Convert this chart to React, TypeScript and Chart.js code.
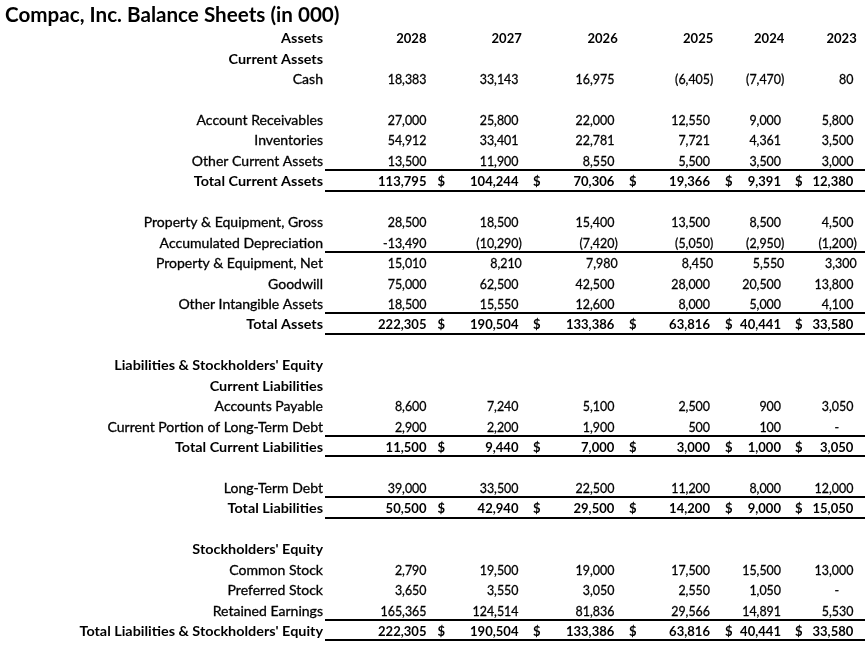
import React, { useEffect, useRef } from "react";
import { Chart, registerables } from "chart.js";

Chart.register(...registerables);

// ---------------- data ----------------
const TITLE = "Compac, Inc. Balance Sheets (in 000)";

const years = ["2028", "2027", "2026", "2025", "2024", "2023"];

const rowLabels = [
  "Assets",
  "Current Assets",
  "Cash",
  "",
  "Account Receivables",
  "Inventories",
  "Other Current Assets",
  "Total Current Assets",
  "",
  "Property & Equipment, Gross",
  "Accumulated Depreciation",
  "Property & Equipment, Net",
  "Goodwill",
  "Other Intangible Assets",
  "Total Assets",
  "",
  "Liabilities & Stockholders' Equity",
  "Current Liabilities",
  "Accounts Payable",
  "Current Portion of Long-Term Debt",
  "Total Current Liabilities",
  "",
  "Long-Term Debt",
  "Total Liabilities",
  "",
  "Stockholders' Equity",
  "Common Stock",
  "Preferred Stock",
  "Retained Earnings",
  "Total Liabilities & Stockholders' Equity",
];

const values2028 = [null, null, 18383, null, 27000, 54912, 13500, 113795, null, 28500, -13490, 15010, 75000, 18500, 222305, null, null, null, 8600, 2900, 11500, null, 39000, 50500, null, null, 2790, 3650, 165365, 222305];
const values2027 = [null, null, 33143, null, 25800, 33401, 11900, 104244, null, 18500, -10290, 8210, 62500, 15550, 190504, null, null, null, 7240, 2200, 9440, null, 33500, 42940, null, null, 19500, 3550, 124514, 190504];
const values2026 = [null, null, 16975, null, 22000, 22781, 8550, 70306, null, 15400, -7420, 7980, 42500, 12600, 133386, null, null, null, 5100, 1900, 7000, null, 22500, 29500, null, null, 19000, 3050, 81836, 133386];
const values2025 = [null, null, -6405, null, 12550, 7721, 5500, 19366, null, 13500, -5050, 8450, 28000, 8000, 63816, null, null, null, 2500, 500, 3000, null, 11200, 14200, null, null, 17500, 2550, 29566, 63816];
const values2024 = [null, null, -7470, null, 9000, 4361, 3500, 9391, null, 8500, -2950, 5550, 20500, 5000, 40441, null, null, null, 900, 100, 1000, null, 8000, 9000, null, null, 15500, 1050, 14891, 40441];
const values2023 = [null, null, 80, null, 5800, 3500, 3000, 12380, null, 4500, -1200, 3300, 13800, 4100, 33580, null, null, null, 3050, 0, 3050, null, 12000, 15050, null, null, 13000, 0, 5530, 33580];

const seriesValues = [values2028, values2027, values2026, values2025, values2024, values2023];

// ---------------- layout / style ----------------
const W = 867;
const H = 651;
const ROW0 = 38.2;
const ROW_H = 20.45;
const LABEL_RIGHT = 323;
const COL_EDGE = [426.5, 521.8, 617.7, 713.3, 784.3, 856.7];
const DOLLAR_X = [null, 437.5, 533, 629, 725, 795];
const DASH_OFFSET = 20;
const RULE_LEFT = 325;
const RULE_RIGHT = 865;
const RULE_OFFSET = 0.45;
const TITLE_X = 5;
const TITLE_BASELINE = 22;
const CAP_BODY = 9.8;
const CAP_TITLE = 15.4;
const THICKEN_REGULAR = 0.3;

const boldRows = [0, 1, 7, 14, 16, 17, 20, 23, 25, 29];
const totalRows = [7, 14, 20, 23, 29];
const ruleRows = [6, 7, 10, 13, 14, 19, 20, 22, 23, 28, 29];
const plainFormatRows = [11];

const FAMILY = "Lato, 'Open Sans', sans-serif";

type FontSpec = { font: string; sx: number; cap: number; thicken: number };

function makeFont(sample: string, weight: string, targetWidth: number, cap: number, thicken: number): FontSpec {
  const ctx = document.createElement("canvas").getContext("2d")!;
  ctx.font = `${weight} 100px ${FAMILY}`;
  const capRatio = ctx.measureText("H").actualBoundingBoxAscent / 100;
  const size = cap / capRatio;
  ctx.font = `${weight} ${size}px ${FAMILY}`;
  const w = ctx.measureText(sample).width;
  return { font: `${weight} ${size}px ${FAMILY}`, sx: targetWidth / w, cap, thicken };
}

const fmt = (n: number) => Math.abs(n).toLocaleString("en-US");

export default function App() {
  const ref = useRef<HTMLCanvasElement | null>(null);

  useEffect(() => {
    const canvas = ref.current;
    if (!canvas) return;

    const fonts: Record<string, FontSpec> = {
      label: makeFont("Current Portion of Long-Term Debt", "normal", 215.5, CAP_BODY, THICKEN_REGULAR),
      labelBold: makeFont("Total Liabilities & Stockholders' Equity", "bold", 243.5, CAP_BODY, 0),
      num: makeFont("124,514", "normal", 46, CAP_BODY, THICKEN_REGULAR),
      numBold: makeFont("104,244", "bold", 48.5, CAP_BODY, 0),
      title: makeFont(TITLE, "bold", 334.5, CAP_TITLE, 0),
    };

    const mc = document.createElement("canvas").getContext("2d")!;
    mc.font = fonts.num.font;
    const parenW = mc.measureText(")").width * fonts.num.sx;

    type Cell = { x: number; y: number; text: string; font: string; align: CanvasTextAlign };

    const labelCells: Cell[] = [];
    rowLabels.forEach((t, r) => {
      if (!t) return;
      labelCells.push({ x: LABEL_RIGHT, y: r, text: t, font: boldRows.includes(r) ? "labelBold" : "label", align: "right" });
    });

    const headerCells: Cell[] = years.map((yr, c) => ({ x: COL_EDGE[c], y: 0, text: yr, font: "numBold", align: "right" }));

    const valueDatasets = seriesValues.map((vals, c) => {
      const cells: Cell[] = [];
      vals.forEach((v, r) => {
        if (v === null || v === undefined) return;
        const bold = totalRows.includes(r);
        const font = bold ? "numBold" : "num";
        const edge = COL_EDGE[c];
        if (c === 0) {
          cells.push({ x: edge, y: r, text: (v < 0 ? "-" : "") + fmt(v), font, align: "right" });
        } else if (v === 0) {
          cells.push({ x: edge - DASH_OFFSET, y: r, text: "-", font, align: "center" });
        } else if (v < 0) {
          cells.push({ x: edge, y: r, text: "(" + fmt(v) + ")", font, align: "right" });
        } else if (plainFormatRows.includes(r)) {
          cells.push({ x: edge, y: r, text: fmt(v), font, align: "right" });
        } else {
          cells.push({ x: edge - parenW, y: r, text: fmt(v), font, align: "right" });
        }
      });
      return { label: years[c], data: cells };
    });

    const dollarCells: Cell[] = [];
    years.forEach((_, c) => {
      const dx = DOLLAR_X[c];
      if (dx === null) return;
      totalRows.forEach((r) => dollarCells.push({ x: dx, y: r, text: "$", font: "numBold", align: "left" }));
    });

    const datasets = [
      { label: "labels", data: labelCells },
      { label: "header", data: headerCells },
      ...valueDatasets,
      { label: "dollars", data: dollarCells },
    ].map((d) => ({ ...d, pointRadius: 0, pointHoverRadius: 0, showLine: false }));

    const drawText = (ctx: CanvasRenderingContext2D, spec: FontSpec, text: string, x: number, y: number, align: CanvasTextAlign) => {
      ctx.save();
      ctx.font = spec.font;
      ctx.textAlign = align;
      ctx.textBaseline = "alphabetic";
      ctx.translate(x, y);
      ctx.scale(spec.sx, 1);
      ctx.fillText(text, 0, 0);
      if (spec.thicken > 0) {
        ctx.lineWidth = spec.thicken;
        ctx.strokeStyle = "#000";
        ctx.strokeText(text, 0, 0);
      }
      ctx.restore();
    };

    const tablePlugin = {
      id: "tableText",
      afterDatasetsDraw(chart: any) {
        const ctx: CanvasRenderingContext2D = chart.ctx;
        const xs = chart.scales.x;
        const ys = chart.scales.y;
        ctx.save();
        ctx.fillStyle = "#000";
        drawText(ctx, fonts.title, TITLE, xs.getPixelForValue(TITLE_X), TITLE_BASELINE, "left");

        ctx.strokeStyle = "#000";
        ctx.lineWidth = 2;
        ruleRows.forEach((r) => {
          const py = Math.round(ys.getPixelForValue(r + RULE_OFFSET));
          ctx.beginPath();
          ctx.moveTo(xs.getPixelForValue(RULE_LEFT), py);
          ctx.lineTo(xs.getPixelForValue(RULE_RIGHT), py);
          ctx.stroke();
        });

        chart.data.datasets.forEach((ds: any, di: number) => {
          const meta = chart.getDatasetMeta(di);
          meta.data.forEach((el: any, j: number) => {
            const cell = ds.data[j] as Cell;
            const spec = fonts[cell.font];
            drawText(ctx, spec, cell.text, el.x, el.y + spec.cap / 2, cell.align);
          });
        });
        ctx.restore();
      },
    };

    const yMin = -ROW0 / ROW_H;
    const yMax = yMin + H / ROW_H;

    const chart = new Chart(canvas, {
      type: "scatter",
      data: { datasets: datasets as any },
      options: {
        animation: false,
        responsive: false,
        devicePixelRatio: 1,
        layout: { padding: 0 },
        events: [],
        scales: {
          x: { type: "linear", min: 0, max: W, display: false },
          y: { type: "linear", min: yMin, max: yMax, reverse: true, display: false },
        },
        plugins: {
          legend: { display: false },
          tooltip: { enabled: false },
          title: { display: false },
        },
      },
      plugins: [tablePlugin],
    });

    return () => chart.destroy();
  }, []);

  return (
    <div style={{ position: "fixed", left: 0, top: 0, width: W, height: H, background: "#fff" }}>
      <canvas ref={ref} width={W} height={H} style={{ display: "block", width: W, height: H }} />
    </div>
  );
}
